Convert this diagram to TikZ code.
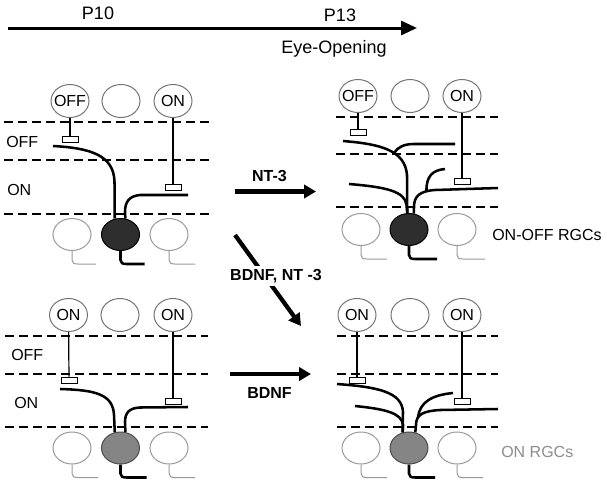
\documentclass[tikz,border=0pt]{standalone}
\usepackage{fontspec}
\setmainfont{Liberation Sans}
\usetikzlibrary{arrows.meta,shapes.geometric}

\begin{document}
\begin{tikzpicture}[x=0.75pt, y=-0.75pt,
    cone/.style = {ellipse, draw=black!55, line width=0.75pt, minimum width=28.5pt, minimum height=24.75pt, inner sep=0pt},
    rgc/.style = {ellipse, draw=black!40, line width=0.75pt, fill=white, minimum width=28.5pt, minimum height=24pt, inner sep=0pt},
    onoff/.style = {rgc, draw=black, fill=black!82},
    oncell/.style = {rgc, draw=black!70, fill=black!48},
    syn/.style = {rectangle, draw, fill=white, line width=0.75pt, minimum width=12pt, minimum height=4.5pt, inner sep=0pt},
    stem/.style = {line width=0.9pt},
    dend/.style = {line width=1.9pt},
    tail/.style = {line width=0.75pt, draw=black!40},
    layer/.style = {line width=1.5pt, dash pattern=on 6.75pt off 3.75pt},
    flow/.style = {line width=3.2pt, -{Triangle[length=9pt, width=10pt]}},
    txt/.style = {inner sep=0pt, font=\fontsize{12}{14}\selectfont},
    drug/.style = {inner sep=0pt, font=\fontsize{12}{14}\selectfont\bfseries},
    stage/.style = {inner sep=0pt, font=\fontsize{13.5}{16}\selectfont}]
    \useasboundingbox (0,0) rectangle (607,486);

    % Time line
    \coordinate (t0) at (8,28);
    \coordinate (t1) at (417,28);
    \draw[line width=2.25pt, -{Triangle[length=12pt, width=10.5pt]}] (t0) -- (t1);
    \node[stage, anchor=base] (p10) at (98,19.3) {P10};
    \node[stage, anchor=base] (p13) at (340,21) {P13};
    \node[stage, anchor=base] (eye) at (334,53.3) {Eye-Opening};

    % Panel A (P10, ON-OFF)
    \node[cone, label={[txt]center:OFF}] (offA) at (70,101) {};
    \node[cone] (midA) at (121,101) {};
    \node[cone, label={[txt]center:ON}] (onA) at (173,101) {};
    \node[syn] (synA1) at (70,139) {};
    \node[syn] (synA2) at (173,187) {};
    \node[rgc] (lcA) at (72,234.5) {};
    \node[onoff] (rgcA) at (120.5,234.5) {};
    \node[rgc] (rcA) at (169,234.5) {};
    \node[txt, anchor=west] (offLA) at (6,141.5) {OFF};
    \node[txt, anchor=west] (onLA) at (7,190) {ON};
    \coordinate (dA1) at (53,146);
    \coordinate (dA2) at (188,195);

    \draw[layer] (4,121.5) -- (210,121.5);
    \draw[layer] (4,159.5) -- (210,159.5);
    \draw[layer] (4,213.5) -- (210,213.5);
    \draw[stem] (offA) -- (synA1);
    \draw[stem] (onA) -- (synA2);
    \draw[dend] (dA1) .. controls (90,148) and (114,155) .. (114.5,182) -- (rgcA.110);
    \draw[dend] (dA2) -- (140,195) .. controls (129,196) and (125,202) .. (125,212) -- (rgcA.73);
    \draw[tail] (lcA.south) -- ++(0,9) .. controls +(0,3) and +(-4,0) .. ++(6,4) -- ++(18,0);
    \draw[dend] (rgcA.south) -- ++(0,9) .. controls +(0,3) and +(-4,0) .. ++(6,4) -- ++(18,0);
    \draw[tail] (rcA.south) -- ++(0,9) .. controls +(0,3) and +(-4,0) .. ++(6,4) -- ++(20,0);

    % Panel B (P13, ON-OFF)
    \node[cone, label={[txt]center:OFF}] (offB) at (358,96) {};
    \node[cone] (midB) at (410,96) {};
    \node[cone, label={[txt]center:ON}] (onB) at (462,96) {};
    \node[syn] (synB1) at (358,132.5) {};
    \node[syn] (synB2) at (462,181.5) {};
    \node[rgc] (lcB) at (361,229.5) {};
    \node[onoff] (rgcB) at (409,229.5) {};
    \node[rgc] (rcB) at (457,229.5) {};
    \node[txt, anchor=west] (oolab) at (492,235) {ON-OFF RGCs};
    \coordinate (dB1) at (343,141);
    \coordinate (dB2) at (349,184);
    \coordinate (dB3) at (498,188);
    \coordinate (eB1) at (455,144);
    \coordinate (eB2) at (445,169);
    \coordinate (jB1) at (394,153);
    \coordinate (jB2) at (426.5,191);

    \draw[layer] (336,116.5) -- (498,116.5);
    \draw[layer] (336,154) -- (498,154);
    \draw[layer] (336,207) -- (498,207);
    \draw[stem] (offB) -- (synB1);
    \draw[stem] (onB) -- (synB2);
    \draw[dend] (dB1) .. controls (380,144) and (405,150) .. (407,175) -- (rgcB.96);
    \draw[dend] (eB1) -- (414,144) .. controls (404,144) and (398,147) .. (jB1);
    \draw[dend] (dB2) .. controls (385,187) and (405,191) .. (406.5,205) -- (rgcB.96);
    \draw[dend] (dB3) -- (435,190) .. controls (420,191) and (414,196) .. (414,207) -- (rgcB.73);
    \draw[dend] (eB2) .. controls (433,170) and (426,176) .. (jB2);
    \draw[tail] (lcB.south) -- ++(0,9) .. controls +(0,3) and +(-4,0) .. ++(6,4) -- ++(20,0);
    \draw[dend] (rgcB.south) -- ++(0,9) .. controls +(0,3) and +(-4,0) .. ++(6,4) -- ++(22,0);
    \draw[tail] (rcB.south) -- ++(0,9) .. controls +(0,3) and +(-4,0) .. ++(6,4) -- ++(22,0);

    % Panel C (P10, ON)
    \node[cone, label={[txt]center:ON}] (onC1) at (68.5,315) {};
    \node[cone] (midC) at (120,315) {};
    \node[cone, label={[txt]center:ON}] (onC2) at (173,315) {};
    \node[syn] (synC1) at (69,380) {};
    \node[syn] (synC2) at (173,401) {};
    \node[rgc] (lcC) at (72,448) {};
    \node[oncell] (rgcC) at (120.5,448) {};
    \node[rgc] (rcC) at (169,448) {};
    \node[txt, anchor=west] (offLC) at (11,355) {OFF};
    \node[txt, anchor=west] (onLC) at (14,403) {ON};
    \coordinate (dC1) at (60,389);
    \coordinate (dC2) at (188,407);

    \draw[layer] (5,336) -- (208,336);
    \draw[layer] (5,373.5) -- (208,373.5);
    \draw[layer] (5,426.7) -- (208,426.7);
    \draw[stem] (onC1) -- (synC1);
    \draw[stem] (onC2) -- (synC2);
    \draw[dend] (dC1) .. controls (95,390) and (113,394) .. (114,415) -- (rgcC.110);
    \draw[dend] (dC2) -- (140,407.5) .. controls (129,408) and (125,413) .. (125,422) -- (rgcC.73);
    \draw[tail] (lcC.south) -- ++(0,9) .. controls +(0,3) and +(-4,0) .. ++(6,4) -- ++(20,0);
    \draw[dend] (rgcC.south) -- ++(0,9) .. controls +(0,3) and +(-4,0) .. ++(6,4) -- ++(20,0);
    \draw[tail] (rcC.south) -- ++(0,9) .. controls +(0,3) and +(-4,0) .. ++(6,4) -- ++(20,0);

    % Panel D (P13, ON)
    \node[cone, label={[txt]center:ON}] (onD1) at (357,315) {};
    \node[cone] (midD) at (410,315) {};
    \node[cone, label={[txt]center:ON}] (onD2) at (462,315) {};
    \node[syn] (synD1) at (357,380) {};
    \node[syn] (synD2) at (462,401) {};
    \node[rgc] (lcD) at (361,448) {};
    \node[oncell] (rgcD) at (409,448) {};
    \node[rgc] (rcD) at (457,448) {};
    \node[txt, anchor=west, text=black!45] (onlab) at (501,452) {ON RGCs};
    \coordinate (dD1) at (337,384);
    \coordinate (dD2) at (355,406);
    \coordinate (dD3) at (498,409);
    \coordinate (dD4) at (453,393);
    \coordinate (jD) at (418,417);

    \draw[layer] (337,336) -- (498,336);
    \draw[layer] (337,373.5) -- (498,373.5);
    \draw[layer] (337,426.7) -- (498,426.7);
    \draw[stem] (onD1) -- (synD1);
    \draw[stem] (onD2) -- (synD2);
    \draw[dend] (dD1) .. controls (378,387) and (402,392) .. (403,412) -- (rgcD.112);
    \draw[dend] (dD2) .. controls (385,409) and (402,413) .. (403,425) -- (rgcD.112);
    \draw[dend] (dD3) -- (440,410) .. controls (424,411) and (416,414) .. (416,425) -- (rgcD.68);
    \draw[dend] (dD4) .. controls (432,395) and (420,402) .. (jD);
    \draw[tail] (lcD.south) -- ++(0,9) .. controls +(0,3) and +(-4,0) .. ++(6,4) -- ++(20,0);
    \draw[dend] (rgcD.south) -- ++(0,9) .. controls +(0,3) and +(-4,0) .. ++(6,4) -- ++(20,0);
    \draw[tail] (rcD.south) -- ++(0,9) .. controls +(0,3) and +(-4,0) .. ++(6,4) -- ++(20,0);

    % Factors
    \coordinate (nA) at (235,191.5);
    \coordinate (nB) at (316,191.5);
    \coordinate (gA) at (235,235);
    \coordinate (gB) at (301,326);
    \coordinate (bA) at (230,374);
    \coordinate (bB) at (311,374);
    \draw[flow] (nA) -- (nB);
    \draw[flow] (gA) -- (gB);
    \draw[flow] (bA) -- (bB);
    \node[drug] (nt3) at (269.5,175.5) {NT-3};
    \node[drug, fill=white, inner sep=2.5pt] (both) at (276,276) {BDNF, NT -3};
    \node[drug] (bdnf) at (269.5,392.5) {BDNF};
\end{tikzpicture}
\end{document}
